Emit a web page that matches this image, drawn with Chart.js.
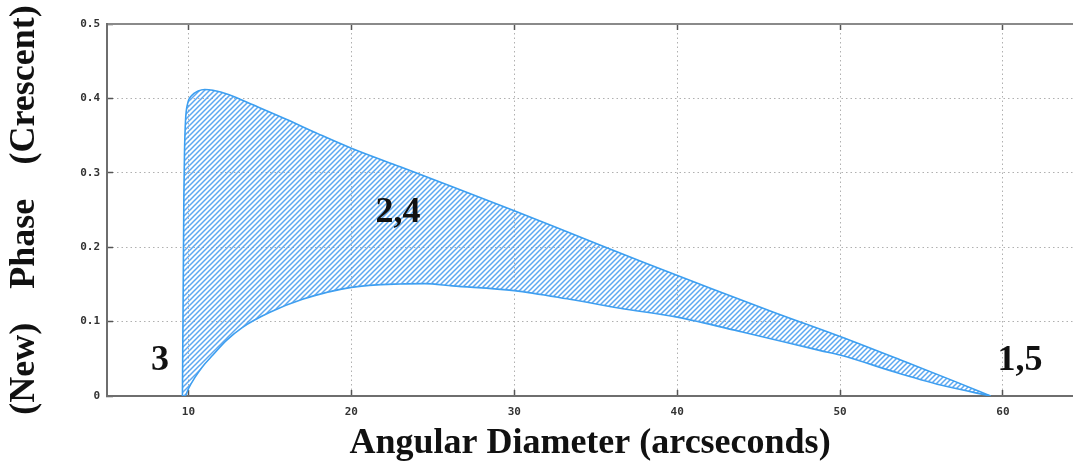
<!DOCTYPE html>
<html>
<head>
<meta charset="utf-8">
<script src="https://cdn.jsdelivr.net/npm/chart.js"></script>
<style>
  html, body { margin: 0; padding: 0; background: #fff; }
  #wrap { width: 1073px; height: 461px; position: relative; }
</style>
</head>
<body>
<div id="wrap"><canvas id="grafico"></canvas></div>
<script>
// upper edge of the shaded region (crescent side)
let upperX = [9.63, 9.68, 9.72, 9.76, 9.82, 9.95, 10.2, 10.6, 11.0, 11.5, 12.5, 14, 16, 18, 20, 23, 26, 30, 34, 38, 42, 46, 50, 54, 57, 59.24];
let upperY = [0, 0.15, 0.27, 0.33, 0.37, 0.393, 0.404, 0.41, 0.412, 0.411, 0.405, 0.391, 0.372, 0.352, 0.333, 0.308, 0.283, 0.249, 0.214, 0.179, 0.145, 0.112, 0.080, 0.046, 0.020, 0];

// lower edge
let lowerX = [9.63, 9.79, 10.0, 10.4, 10.85, 11.5, 12.3, 13.3, 15, 17, 20, 23, 24.5, 26.2, 30, 33.4, 36.5, 40, 44, 48.8, 50, 53.7, 56.5, 59.24];
let lowerY = [0, 0, 0.01, 0.025, 0.039, 0.055, 0.074, 0.092, 0.1125, 0.13, 0.146, 0.1506, 0.151, 0.148, 0.1416, 0.13, 0.118, 0.106, 0.086, 0.061, 0.055, 0.03, 0.013, 0];

let xTicks = [10, 20, 30, 40, 50, 60];
let yTicks = [0, 0.1, 0.2, 0.3, 0.4, 0.5];

// region labels
let labelTexts = ["3", "2,4", "1,5"];
let labelX = [8.25, 22.86, 61.05];
let labelY = [0.048, 0.247, 0.048];

function pontos(xs, ys) {
  return xs.map((x, i) => ({ x: x, y: ys[i] }));
}

// diagonal hatch for the fill
function hachura() {
  const c = document.createElement("canvas");
  c.width = 5;
  c.height = 5;
  const g = c.getContext("2d");
  g.strokeStyle = "rgba(75,158,240,0.9)";
  g.lineWidth = 1.5;
  g.beginPath();
  g.moveTo(-1, 6); g.lineTo(6, -1);
  g.moveTo(-1, 1); g.lineTo(1, -1);
  g.moveTo(4, 6); g.lineTo(6, 4);
  g.stroke();
  return g.createPattern(c, "repeat");
}

const rotulos = {
  id: "rotulos",
  afterDatasetsDraw(chart) {
    const ctx = chart.ctx;
    const sx = chart.scales.x;
    const sy = chart.scales.y;
    ctx.save();
    ctx.font = "bold 36px 'Liberation Serif', 'Times New Roman', serif";
    ctx.fillStyle = "#111";
    ctx.textAlign = "center";
    ctx.textBaseline = "middle";
    labelTexts.forEach((t, i) => {
      ctx.fillText(t, sx.getPixelForValue(labelX[i]), sy.getPixelForValue(labelY[i]));
    });
    ctx.restore();
  }
};

const fonteTick = { family: "'DejaVu Sans Mono', monospace", size: 11, weight: "bold" };
const fonteTitulo = { family: "'Liberation Serif', 'Times New Roman', serif", size: 36, weight: "bold", lineHeight: 0.95 };

const grafico = new Chart(document.getElementById("grafico"), {
  type: "line",
  data: {
    datasets: [
      {
        data: pontos(upperX, upperY),
        borderColor: "#3d9ff0",
        borderWidth: 1.6,
        backgroundColor: hachura(),
        fill: "+1",
        pointRadius: 0,
        cubicInterpolationMode: "monotone"
      },
      {
        data: pontos(lowerX, lowerY),
        borderColor: "#3d9ff0",
        borderWidth: 1.6,
        fill: false,
        pointRadius: 0,
        cubicInterpolationMode: "monotone"
      }
    ]
  },
  options: {
    responsive: true,
    maintainAspectRatio: false,
    animation: false,
    layout: { padding: { top: 24, left: 0, right: 0, bottom: 0 } },
    plugins: { legend: { display: false }, tooltip: { enabled: false } },
    scales: {
      x: {
        type: "linear",
        min: 5,
        max: 64.3,
        afterBuildTicks: (s) => { s.ticks = xTicks.map((v) => ({ value: v })); },
        afterFit: (s) => { s.height = 65; },
        grid: { color: "#b0b0b0", lineWidth: 1, tickLength: -6, tickColor: "#555", tickWidth: 1.5 },
        border: { color: "#6e6e6e", width: 2, dash: [1.5, 3] },
        ticks: { font: fonteTick, color: "#333", padding: 15.4, maxRotation: 0 },
        title: { display: true, text: "Angular Diameter (arcseconds)", font: fonteTitulo, color: "#111", padding: 0 }
      },
      x2: {
        type: "linear",
        position: "top",
        min: 5,
        max: 64.3,
        afterBuildTicks: (s) => { s.ticks = xTicks.map((v) => ({ value: v })); },
        afterFit: (s) => { s.height = 0; },
        grid: { drawOnChartArea: false, tickLength: -6, tickColor: "#555", tickWidth: 1.5 },
        border: { color: "#8a8a8a", width: 2 },
        ticks: { display: false }
      },
      y: {
        type: "linear",
        min: 0,
        max: 0.5,
        afterBuildTicks: (s) => { s.ticks = yTicks.map((v) => ({ value: v })); },
        afterFit: (s) => { s.width = 107; },
        grid: { color: "#b0b0b0", lineWidth: 1, tickLength: -6, tickColor: "#555", tickWidth: 1.5 },
        border: { color: "#6e6e6e", width: 2, dash: [1.5, 3] },
        ticks: {
          font: fonteTick,
          color: "#333",
          padding: 13,
          callback: (v) => (v === 0 ? "0" : v.toFixed(1))
        },
        title: {
          display: true,
          text: "(New)\u2002 \u2009Phase\u2002 \u2009(Crescent)",
          font: fonteTitulo,
          color: "#111",
          padding: { top: 7.75, bottom: 0 }
        }
      }
    }
  },
  plugins: [rotulos]
});
</script>
</body>
</html>
